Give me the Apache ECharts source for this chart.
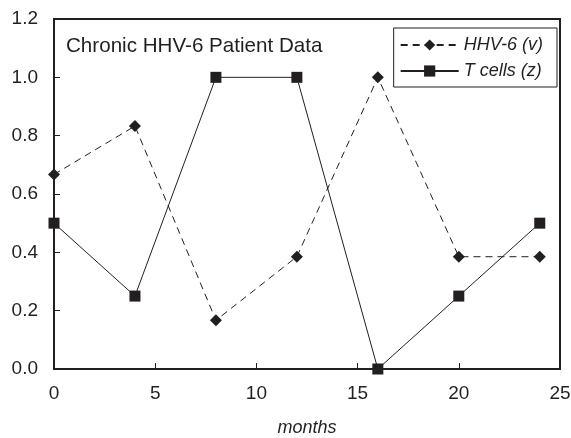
<!DOCTYPE html>
<html>
<head>
<meta charset="utf-8">
<script src="https://cdn.jsdelivr.net/npm/echarts@6/dist/echarts.min.js"></script>
<style>
  html, body { margin: 0; padding: 0; background: #fff; }
  #chart { width: 571px; height: 438px; }
</style>
</head>
<body>
<div id="chart"></div>
<script>
// Chronic HHV-6 patient: normalised viral load and T-cell counts over time
const months = [0, 4, 8, 12, 16, 20, 24];
const hhv6 = [0.667, 0.833, 0.167, 0.385, 1.0, 0.385, 0.385];
const tCells = [0.5, 0.25, 1.0, 1.0, 0.0, 0.25, 0.5];
const xTicks = [0, 5, 10, 15, 20, 25];
const yTicks = [0.0, 0.2, 0.4, 0.6, 0.8, 1.0, 1.2];

const font = 'Liberation Sans, Arial, sans-serif';
const ink = '#231f20';

const chart = echarts.init(document.getElementById('chart'), null, { renderer: 'canvas' });

chart.setOption({
  animation: false,
  backgroundColor: '#fff',
  title: {
    text: 'Chronic HHV-6 Patient Data',
    left: 61,
    top: 31,
    textStyle: { fontFamily: font, fontSize: 20.6, fontWeight: 'normal', color: ink }
  },
  legend: {
    orient: 'vertical',
    right: 14,
    top: 28,
    padding: [8, 14, 7, 6],
    itemGap: 8,
    itemWidth: 58,
    itemHeight: 14,
    borderColor: ink,
    borderWidth: 1,
    textStyle: { fontFamily: font, fontSize: 18, fontStyle: 'italic', color: ink },
    data: ['HHV-6 (v)', 'T cells (z)']
  },
  grid: {
    left: 54, right: 11, top: 19, bottom: 69,
    outerBoundsMode: 'none',
    containLabel: false,
    show: true, borderColor: ink, borderWidth: 2
  },
  xAxis: {
    type: 'value',
    min: xTicks[0],
    max: xTicks[xTicks.length - 1],
    interval: 5,
    name: 'months',
    nameLocation: 'middle',
    nameGap: 50,
    nameTextStyle: { fontFamily: font, fontSize: 18, fontStyle: 'italic', color: ink },
    axisLine: { lineStyle: { color: ink, width: 2 } },
    axisTick: { inside: true, length: 6, lineStyle: { color: ink, width: 1 } },
    axisLabel: { fontFamily: font, fontSize: 19, color: ink, margin: 15 },
    splitLine: { show: false }
  },
  yAxis: {
    type: 'value',
    min: yTicks[0],
    max: yTicks[yTicks.length - 1],
    interval: 0.2,
    axisLine: { show: true, lineStyle: { color: ink, width: 2 } },
    axisTick: { show: true, inside: true, length: 6, lineStyle: { color: ink, width: 1 } },
    axisLabel: {
      fontFamily: font, fontSize: 19, color: ink, margin: 16,
      formatter: v => v.toFixed(1)
    },
    splitLine: { show: false }
  },
  series: [
    {
      name: 'HHV-6 (v)',
      type: 'line',
      data: months.map((m, i) => [m, hhv6[i]]),
      symbol: 'diamond',
      symbolSize: 12,
      itemStyle: { color: ink },
      lineStyle: { color: ink, width: 1, type: [7, 5] },
      z: 3
    },
    {
      name: 'T cells (z)',
      type: 'line',
      data: months.map((m, i) => [m, tCells[i]]),
      symbol: 'rect',
      symbolSize: 11,
      itemStyle: { color: ink },
      lineStyle: { color: ink, width: 1 },
      z: 4
    }
  ]
});
</script>
</body>
</html>
